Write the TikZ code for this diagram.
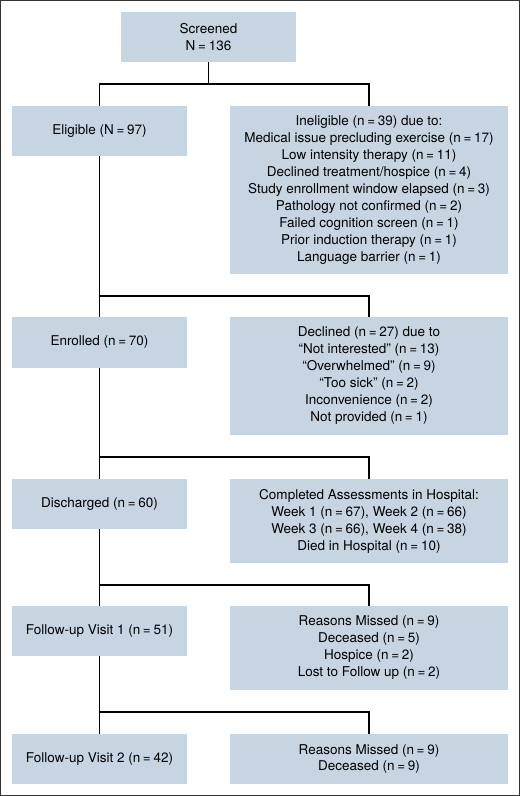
\documentclass[tikz,border=0pt]{standalone}
\usepackage{fontspec}
\setmainfont{TeX Gyre Heros}
\definecolor{boxfill}{HTML}{C6D5E1}
\definecolor{framecol}{HTML}{333333}
\newcommand{\eqs}{\hspace{0.2em}=\hspace{0.2em}}
\begin{document}
\begin{tikzpicture}[x=1pt,y=-1pt,
  box/.style={fill=boxfill, draw=none, align=center, inner sep=0pt,
    font=\fontsize{13.5}{17}\selectfont},
  lbox/.style={box, minimum width=175pt},
  rbox/.style={box, minimum width=278pt},
  conn/.style={draw=black, line width=1.4pt}]
\draw[framecol, line width=1.2pt] (0.6,0.6) rectangle (519.4,795.4);
\useasboundingbox (0,0) rectangle (520,796);

\node[lbox, minimum height=50pt] (scr) at (208.5,37) {Screened\\N\eqs136};
\node[lbox, minimum height=50pt] (elig) at (99.5,131) {Eligible (N\eqs97)};
\node[rbox, minimum height=168pt] (inel) at (369,190) {Ineligible (n\eqs39) due to:\\Medical issue precluding exercise (n\eqs17)\\Low intensity therapy (n\eqs11)\\Declined treatment/hospice (n\eqs4)\\Study enrollment window elapsed (n\eqs3)\\Pathology not confirmed (n\eqs2)\\Failed cognition screen (n\eqs1)\\Prior induction therapy (n\eqs1)\\Language barrier (n\eqs1)};
\node[lbox, minimum height=51pt] (enr) at (99.5,342.5) {Enrolled (n\eqs70)};
\node[rbox, minimum height=118pt] (decl) at (369,376) {Declined (n\eqs27) due to\\“Not interested” (n\eqs13)\\“Overwhelmed” (n\eqs9)\\“Too sick” (n\eqs2)\\Inconvenience (n\eqs2)\\Not provided (n\eqs1)};
\node[lbox, minimum height=50pt] (dis) at (99.5,504) {Discharged (n\eqs60)};
\node[rbox, minimum height=84pt] (comp) at (369,521) {Completed Assessments in Hospital:\\Week 1 (n\eqs67), Week 2 (n\eqs66)\\Week 3 (n\eqs66), Week 4 (n\eqs38)\\Died in Hospital (n\eqs10)};
\node[lbox, minimum height=50pt] (fu1) at (99.5,631) {Follow-up Visit 1 (n\eqs51)};
\node[rbox, minimum height=84pt] (miss1) at (369,648) {Reasons Missed (n\eqs9)\\Deceased (n\eqs5)\\Hospice (n\eqs2)\\Lost to Follow up (n\eqs2)};
\node[lbox, minimum height=50pt] (fu2) at (99.5,759) {Follow-up Visit 2 (n\eqs42)};
\node[rbox, minimum height=50pt] (miss2) at (369,759) {Reasons Missed (n\eqs9)\\Deceased (n\eqs9)};

\draw[conn] (scr.south) -- ++(0,22);
\draw[conn] (elig.north) -- ++(0,-22) -| (inel.north);
\draw[conn] (elig.south) -- (enr.north);
\draw[conn] (enr.north) ++(0,-21) -| (decl.north);
\draw[conn] (enr.south) -- (dis.north);
\draw[conn] (dis.north) ++(0,-22) -| (comp.north);
\draw[conn] (dis.south) -- (fu1.north);
\draw[conn] (fu1.north) ++(0,-21) -| (miss1.north);
\draw[conn] (fu1.south) -- (fu2.north);
\draw[conn] (fu2.north) ++(0,-22) -| (miss2.north);
\end{tikzpicture}
\end{document}
